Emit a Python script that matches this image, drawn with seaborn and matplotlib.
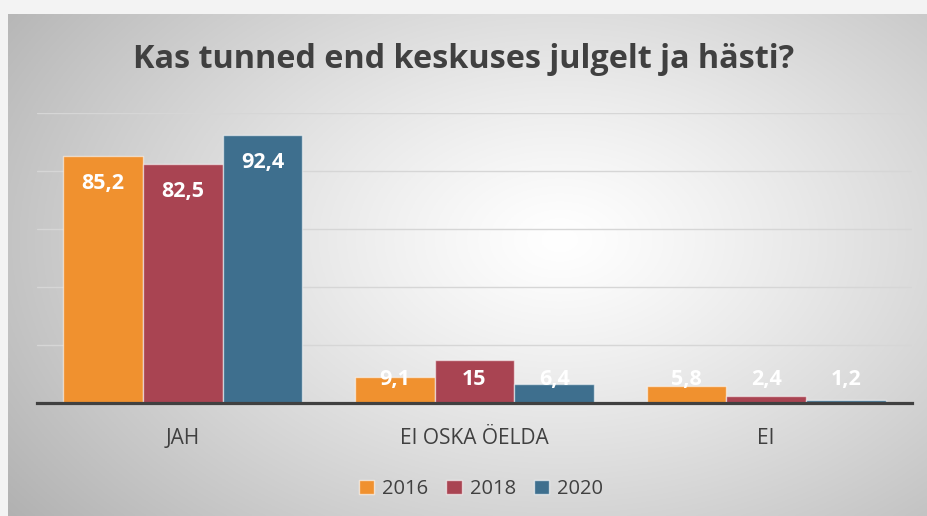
import matplotlib
matplotlib.use("Agg")
import matplotlib.pyplot as plt
import numpy as np
import pandas as pd
import seaborn as sns
from matplotlib.patches import Patch

# Data
categories = ["JAH", "EI OSKA ÖELDA", "EI"]
years = ["2016", "2018", "2020"]
values_2016 = [85.2, 9.1, 5.8]
values_2018 = [82.5, 15.0, 2.4]
values_2020 = [92.4, 6.4, 1.2]

colors = ["#F0912F", "#A94452", "#3E6F8E"]
text_dark = "#404040"

sns.set_theme(style="white")
plt.rcParams["font.family"] = ["Open Sans", "DejaVu Sans"]

rows = []
for year, vals in zip(years, [values_2016, values_2018, values_2020]):
    for cat, v in zip(categories, vals):
        rows.append({"cat": cat, "year": year, "val": v})
df = pd.DataFrame(rows)

W, H = 928, 516
fig = plt.figure(figsize=(W / 100, H / 100), dpi=100)
fig.patch.set_facecolor("#f3f3f3")

# Panel background: radial gradient, light centre, grey corners
bg = fig.add_axes([8 / W, 0, (W - 8) / W, (H - 14) / H])
gx, gy = np.meshgrid(np.linspace(0, 1, 400), np.linspace(0, 1, 300))
r = np.sqrt(((gx - 0.6) / 0.7) ** 2 + ((gy - 0.45) / 0.85) ** 2)
shade = 1.0 - 0.28 * np.clip(r, 0, 1.25) ** 1.2
bg.imshow(np.dstack([shade] * 3), aspect="auto", extent=[0, 1, 0, 1], origin="upper")
bg.set_axis_off()

ax = fig.add_axes([37 / W, 1 - 403 / H, (912 - 37) / W, (403 - 113) / H])
ax.set_facecolor("none")

sns.barplot(
    data=df, x="cat", y="val", hue="year", hue_order=years, order=categories,
    palette=colors, width=0.82, gap=0, ax=ax, errorbar=None, legend=False,
    edgecolor=(1, 1, 1, 0.55), linewidth=1.0, saturation=1,
)

ax.set_xlim(-0.5, 2.5)
ax.set_ylim(0, 100)
ax.set_yticks([20, 40, 60, 80, 100])
ax.yaxis.grid(True, color="#d6d6d6", linewidth=1.0)
ax.set_axisbelow(True)
ax.tick_params(axis="y", length=0, labelleft=False)
ax.tick_params(axis="x", length=0, pad=18, labelsize=15, labelcolor=text_dark)
ax.set_xlabel("")
ax.set_ylabel("")
for s in ["top", "right", "left"]:
    ax.spines[s].set_visible(False)
ax.spines["bottom"].set_color(text_dark)
ax.spines["bottom"].set_linewidth(2.3)
ax.spines["bottom"].set_zorder(5)

# Value labels, white, inside bar tops (clamped near baseline for short bars)
for container, vals in zip(ax.containers, [values_2016, values_2018, values_2020]):
    for bar, v in zip(container, vals):
        xc = bar.get_x() + bar.get_width() / 2
        txt = f"{v:g}".replace(".", ",")
        ax.text(xc, max(v - 9.5, 8.0), txt, ha="center", va="center",
                color="white", fontsize=15.5, fontweight="bold", zorder=6)

fig.text(464 / W, 1 - 60 / H, "Kas tunned end keskuses julgelt ja hästi?",
         ha="center", va="center", fontsize=23.3, fontweight="bold", color=text_dark)

handles = [Patch(facecolor=c, edgecolor=(1, 1, 1, 0.6), label=y) for c, y in zip(colors, years)]
fig.legend(handles=handles, loc="center", bbox_to_anchor=(481 / W, 1 - 489 / H),
           ncol=3, frameon=False, fontsize=14.5, labelcolor=text_dark,
           handlelength=0.75, handleheight=0.75, handletextpad=0.4, columnspacing=0.9)

fig.savefig("out.png", dpi=100)
